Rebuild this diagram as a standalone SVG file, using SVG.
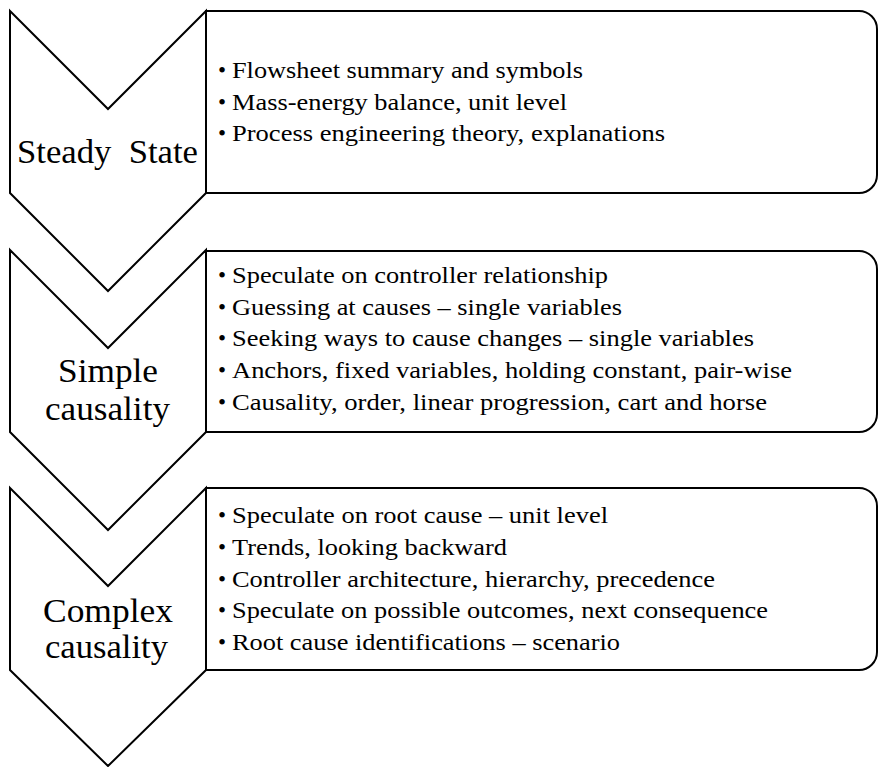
<svg xmlns="http://www.w3.org/2000/svg" width="879" height="767" viewBox="0 0 879 767">
  <style>
    .shape { fill: #ffffff; stroke: #000000; stroke-width: 2; stroke-linejoin: miter; }
    .label { font-family: "Times New Roman", "Liberation Serif", Tinos, serif; font-size: 34px; fill: #000000; white-space: pre; }
    .item { font-family: "Times New Roman", "Liberation Serif", Tinos, serif; font-size: 23px; fill: #000000; white-space: pre; }
  </style>
  <rect x="0" y="0" width="879" height="767" fill="#ffffff"/>

  <!-- Stage 1: Steady State -->
  <g id="stage-steady">
    <path class="shape" d="M206,11 H859 A18,18 0 0 1 877,29 V175 A18,18 0 0 1 859,193 H206 Z"/>
    <polygon class="shape" points="10,11 108,109 206,11 206,193 108,291 10,193"/>
    <text class="label" x="17" y="163" textLength="181" lengthAdjust="spacingAndGlyphs">Steady  State</text>
    <g class="item">
      <text x="218" y="78">•</text><text x="232" y="78" textLength="351" lengthAdjust="spacingAndGlyphs">Flowsheet summary and symbols</text>
      <text x="218" y="110">•</text><text x="232" y="110" textLength="335" lengthAdjust="spacingAndGlyphs">Mass-energy  balance, unit level</text>
      <text x="218" y="141">•</text><text x="232" y="141" textLength="433" lengthAdjust="spacingAndGlyphs">Process engineering theory, explanations</text>
    </g>
  </g>

  <!-- Stage 2: Simple causality -->
  <g id="stage-simple">
    <path class="shape" d="M206,251 H859 A18,18 0 0 1 877,269 V414 A18,18 0 0 1 859,432 H206 Z"/>
    <polygon class="shape" points="10,250 108,348 206,250 206,432 108,530 10,432"/>
    <text class="label" x="58" y="382" textLength="100" lengthAdjust="spacingAndGlyphs">Simple</text>
    <text class="label" x="45" y="420" textLength="125" lengthAdjust="spacingAndGlyphs">causality</text>
    <g class="item">
      <text x="218" y="283">•</text><text x="232" y="283" textLength="376" lengthAdjust="spacingAndGlyphs">Speculate on controller relationship</text>
      <text x="218" y="315">•</text><text x="232" y="315" textLength="390" lengthAdjust="spacingAndGlyphs">Guessing at causes – single variables</text>
      <text x="218" y="346">•</text><text x="232" y="346" textLength="522" lengthAdjust="spacingAndGlyphs">Seeking ways to cause changes  – single variables</text>
      <text x="218" y="378">•</text><text x="232" y="378" textLength="560" lengthAdjust="spacingAndGlyphs">Anchors, fixed variables, holding constant, pair-wise</text>
      <text x="218" y="410">•</text><text x="232" y="410" textLength="535" lengthAdjust="spacingAndGlyphs">Causality, order, linear progression, cart and horse</text>
    </g>
  </g>

  <!-- Stage 3: Complex causality -->
  <g id="stage-complex">
    <path class="shape" d="M206,488 H859 A18,18 0 0 1 877,506 V652 A18,18 0 0 1 859,670 H206 Z"/>
    <polygon class="shape" points="10,488 108,586 206,488 206,670 108,766 10,670"/>
    <text class="label" x="43" y="622" textLength="130" lengthAdjust="spacingAndGlyphs">Complex</text>
    <text class="label" x="45" y="658" textLength="123" lengthAdjust="spacingAndGlyphs">causality</text>
    <g class="item">
      <text x="218" y="523">•</text><text x="232" y="523" textLength="376" lengthAdjust="spacingAndGlyphs">Speculate on root cause – unit level</text>
      <text x="218" y="555">•</text><text x="232" y="555" textLength="275" lengthAdjust="spacingAndGlyphs">Trends,  looking backward</text>
      <text x="218" y="587">•</text><text x="232" y="587" textLength="483" lengthAdjust="spacingAndGlyphs">Controller architecture, hierarchy,  precedence</text>
      <text x="218" y="618">•</text><text x="232" y="618" textLength="536" lengthAdjust="spacingAndGlyphs">Speculate on possible outcomes, next consequence</text>
      <text x="218" y="650">•</text><text x="232" y="650" textLength="388" lengthAdjust="spacingAndGlyphs">Root cause identifications – scenario</text>
    </g>
  </g>

  <g id="connectors"/>
</svg>
